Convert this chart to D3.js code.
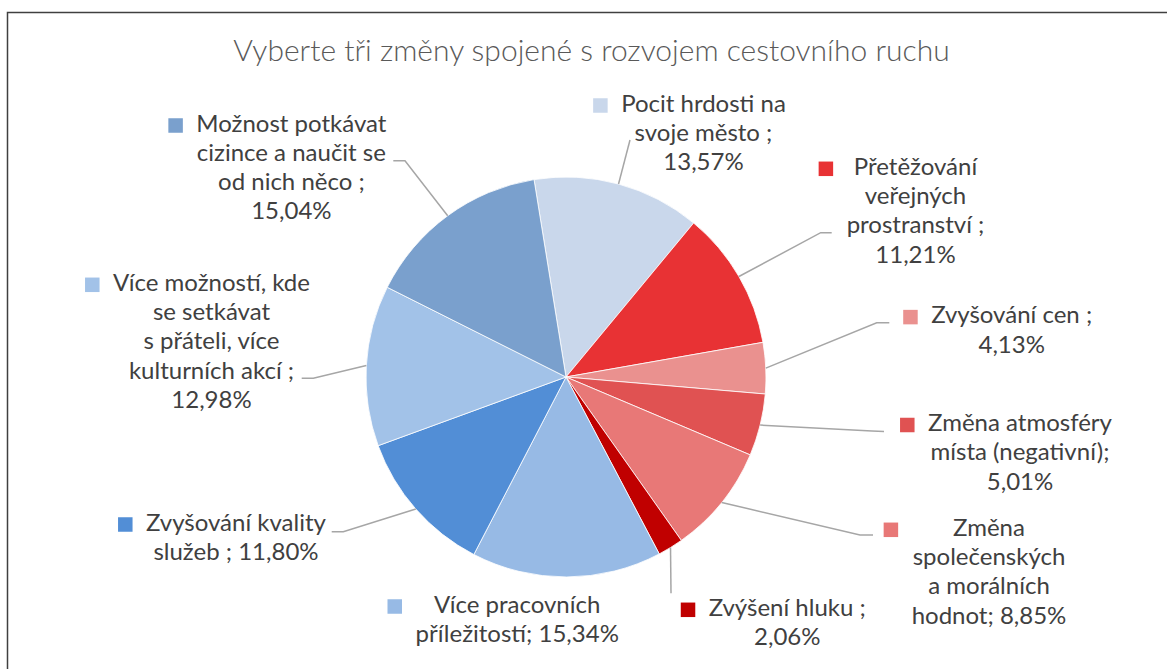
<!DOCTYPE html>
<html>
<head>
<meta charset="utf-8">
<script src="https://cdn.jsdelivr.net/npm/d3@7"></script>
<style>
  body { margin: 0; background: #fff; }
  svg text { font-family: Lato, "Open Sans", sans-serif; }
</style>
</head>
<body>
<div id="chart"></div>
<script>
// data, clockwise from the slice right of 12 o'clock
var categories = [
    "Pocit hrdosti na svoje město",
    "Přetěžování veřejných prostranství",
    "Zvyšování cen",
    "Změna atmosféry místa (negativní)",
    "Změna společenských a morálních hodnot",
    "Zvýšení hluku",
    "Více pracovních příležitostí",
    "Zvyšování kvality služeb",
    "Více možností, kde se setkávat s přáteli, více kulturních akcí",
    "Možnost potkávat cizince a naučit se od nich něco"
];
var values = [13.57, 11.21, 4.13, 5.01, 8.85, 2.06, 15.34, 11.80, 12.98, 15.04];
var labelLines = [
    ["Pocit hrdosti na", "svoje město ;", "{v}"],
    ["Přetěžování", "veřejných", "prostranství ;", "{v}"],
    ["Zvyšování cen ;", "{v}"],
    ["Změna atmosféry", "místa (negativní);", "{v}"],
    ["Změna", "společenských", "a morálních", "hodnot; {v}"],
    ["Zvýšení hluku ;", "{v}"],
    ["Více pracovních", "příležitostí; {v}"],
    ["Zvyšování kvality", "služeb ; {v}"],
    ["Více možností, kde", "se setkávat", "s přáteli, více", "kulturních akcí ;", "{v}"],
    ["Možnost potkávat", "cizince a naučit se", "od nich něco ;", "{v}"]
];
var colors = ["#C9D7EB", "#E83234", "#EA918F", "#E05252", "#E87877",
              "#C00000", "#97BAE5", "#528ED6", "#A2C2E8", "#7AA0CD"];

// label placement: text centre x, first baseline y, leader bend points
var labelPos = [
    {x: 703.5, y: 111.7, leader: [[630, 140]]},
    {x: 915.5, y: 175,   leader: [[820.7, 232.7], [831.7, 232.7]]},
    {x: 1011.7, y: 323.3, leader: [[876.7, 322.7], [889.3, 322.7]]},
    {x: 1020,  y: 431.2, leader: [[872, 431], [884, 431.5]]},
    {x: 989,   y: 536,   leader: [[860, 535], [873, 535]]},
    {x: 787.3, y: 616,   leader: [[671, 593.3]]},
    {x: 517.2, y: 612.7, leader: null},
    {x: 236,   y: 530.7, leader: [[343.3, 531.7], [331.7, 531.7]]},
    {x: 211.5, y: 291,   leader: [[313.3, 378.3], [301.7, 378.3]]},
    {x: 291.4, y: 131.7, leader: [[405, 160.7], [393.3, 160.7]]}
];

var width = 1167, height = 669;
var cx = 566, cy = 377, radius = 200;
var lineH = 29.2;
var fmt = function (v) { return d3.format(".2f")(v).replace(".", ",") + "%"; };

var svg = d3.select("#chart").append("svg")
    .attr("width", width)
    .attr("height", height);

// chart frame
svg.append("rect")
    .attr("x", 7.5).attr("y", 12.5)
    .attr("width", 1170).attr("height", 700)
    .attr("fill", "none")
    .attr("stroke", "#404040")
    .attr("stroke-width", 1.5);

svg.append("text")
    .attr("x", 591.5).attr("y", 61)
    .attr("text-anchor", "middle")
    .style("font-size", "30px")
    .style("font-weight", 300)
    .style("fill", "#595959")
    .text("Vyberte tři změny spojené s rozvojem cestovního ruchu");

var start = -9.2 * Math.PI / 180;
var pie = d3.pie().sort(null).value(function (d) { return d; })
    .startAngle(start).endAngle(start + 2 * Math.PI);
var arcs = pie(values);
var arc = d3.arc().innerRadius(0).outerRadius(radius);

var g = svg.append("g").attr("transform", "translate(" + cx + "," + cy + ")");
g.selectAll("path").data(arcs).enter().append("path")
    .attr("d", arc)
    .attr("fill", function (d, i) { return colors[i]; })
    .attr("stroke", "#fff")
    .attr("stroke-width", 0.8);

// leader lines
arcs.forEach(function (a, i) {
    var p = labelPos[i];
    if (!p.leader) return;
    var mid = (a.startAngle + a.endAngle) / 2;
    var pts = [[cx + radius * Math.sin(mid), cy - radius * Math.cos(mid)]].concat(p.leader);
    svg.append("path")
        .attr("d", d3.line()(pts))
        .attr("fill", "none")
        .attr("stroke", "#A6A6A6")
        .attr("stroke-width", 1.5);
});

// labels with legend keys
labelLines.forEach(function (lines, i) {
    var p = labelPos[i];
    var lg = svg.append("g");
    var maxW = 0;
    lines.forEach(function (t, j) {
        var txt = lg.append("text")
            .attr("x", p.x)
            .attr("y", p.y + j * lineH)
            .attr("text-anchor", "middle")
            .style("font-size", "24px")
            .style("fill", "#404040")
            .text(t.replace("{v}", fmt(values[i])));
        maxW = Math.max(maxW, txt.node().getComputedTextLength());
    });
    var key = 14.5;
    lg.append("rect")
        .attr("x", p.x - maxW / 2 - 13.5 - key)
        .attr("y", p.y - 6.2 - key / 2)
        .attr("width", key).attr("height", key)
        .attr("fill", colors[i]);
});
</script>
</body>
</html>
